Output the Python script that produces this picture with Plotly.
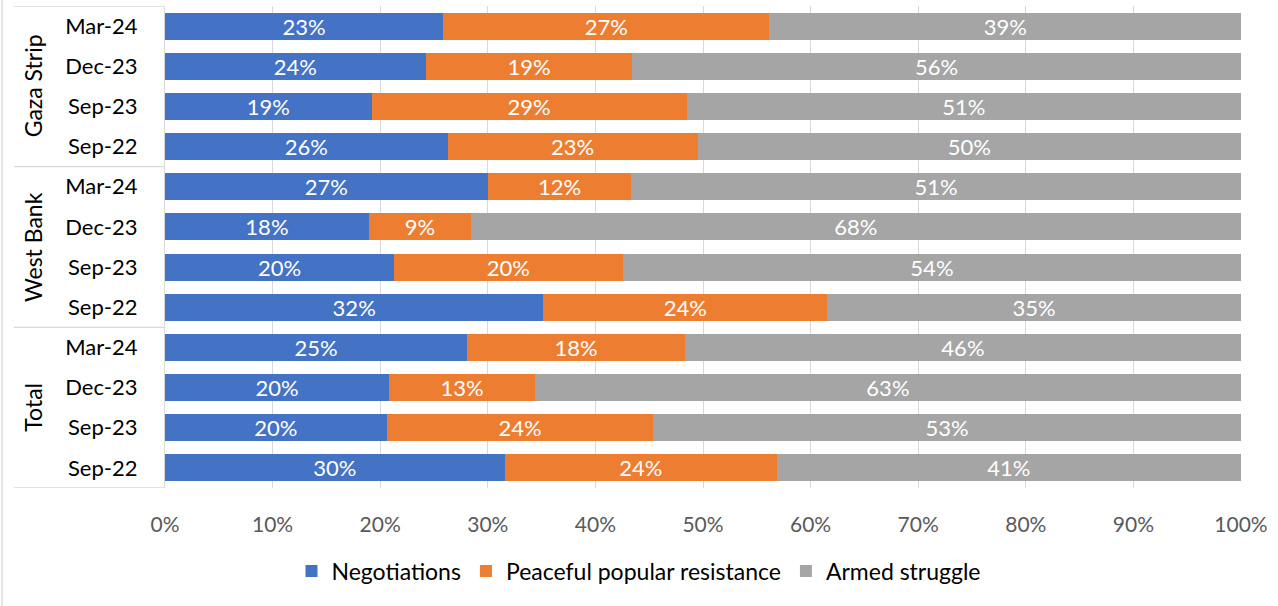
import plotly.graph_objects as go

groups = ["Gaza Strip", "West Bank", "Total"]
periods = ["Mar-24", "Dec-23", "Sep-23", "Sep-22"]
series_names = ["Negotiations", "Peaceful popular resistance", "Armed struggle"]
colors = ["#4472C4", "#ED7D31", "#A5A5A5"]

negotiations = [23, 24, 19, 26, 27, 18, 20, 32, 25, 20, 20, 30]
peaceful = [27, 19, 29, 23, 12, 9, 20, 24, 18, 13, 24, 24]
armed = [39, 56, 51, 50, 51, 68, 54, 35, 46, 63, 53, 41]
xticks = [0, 10, 20, 30, 40, 50, 60, 70, 80, 90, 100]

rows = list(range(len(groups) * len(periods)))
row_labels = [p for g in groups for p in periods]

FONT = "Lato"
fig = go.Figure()
for name, vals, col in zip(series_names, [negotiations, peaceful, armed], colors):
    fig.add_trace(go.Bar(
        y=rows, x=vals, orientation="h", name=name,
        marker=dict(color=col, line=dict(width=0)),
        text=[f"{v}%" for v in vals], textposition="inside",
        insidetextanchor="middle", constraintext="none",
        textfont=dict(color="white", size=22, family=FONT),
        hoverinfo="skip",
    ))

W, H = 1278, 606
L, R, T, B = 165, 37, 6, 118
pw = W - L - R
ph = H - T - B

def px_to_paper_x(px):
    return (px - L) / pw

shapes = []
# group separator lines on the left
for k in range(len(groups) + 1):
    yv = k * len(periods) - 0.5
    shapes.append(dict(type="line", xref="paper", yref="y",
                       x0=px_to_paper_x(14), x1=0, y0=yv, y1=yv,
                       line=dict(color="#D9D9D9", width=1.3)))
# outer left border of chart
shapes.append(dict(type="line", xref="paper", yref="paper",
                   x0=px_to_paper_x(2), x1=px_to_paper_x(2), y0=-(B / ph), y1=1 + T / ph,
                   line=dict(color="#D9D9D9", width=1.3)))

annotations = []
for k, g in enumerate(groups):
    yc = k * len(periods) + (len(periods) - 1) / 2
    annotations.append(dict(text=g, xref="paper", yref="y",
                            x=px_to_paper_x(33), y=yc, showarrow=False,
                            textangle=-90, xanchor="center", yanchor="middle",
                            font=dict(size=23, color="#000000", family=FONT)))

fig.update_layout(
    barmode="stack", barnorm="percent", bargap=0.325,
    width=W, height=H,
    margin=dict(l=L, r=R, t=T, b=B, pad=0, autoexpand=False),
    plot_bgcolor="white", paper_bgcolor="white",
    font=dict(family=FONT, size=20, color="#595959"),
    showlegend=True,
    legend=dict(orientation="h", x=0.5, xref="container", xanchor="center",
                y=(H - 571) / H, yref="container", yanchor="middle",
                font=dict(size=23, color="#000000", family=FONT),
                itemwidth=30, traceorder="normal"),
    shapes=shapes, annotations=annotations,
)
fig.update_xaxes(range=[0, 100], tickvals=xticks, ticktext=[f"{t}%" for t in xticks],
                 showgrid=True, gridcolor="#D9D9D9", gridwidth=1.3,
                 zeroline=False, showline=False, ticks="", automargin=False,
                 ticklabelstandoff=22,
                 tickfont=dict(size=21, color="#595959", family=FONT))
fig.update_yaxes(range=[len(rows) - 0.5, -0.5], tickvals=rows, ticktext=row_labels,
                 showgrid=False, zeroline=False, showline=True, linecolor="#D9D9D9",
                 linewidth=1.3, ticks="", ticklabelstandoff=22, automargin=False,
                 tickfont=dict(size=22, color="#000000", family=FONT))

fig.write_html("out.html", config={"displayModeBar": False},
               post_script="document.body.style.margin='0px';document.body.style.overflow='hidden';")
